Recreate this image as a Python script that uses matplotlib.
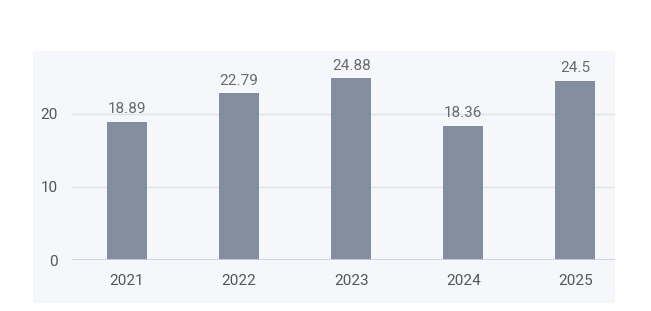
import matplotlib
matplotlib.use('Agg')
import matplotlib.pyplot as plt
from matplotlib.patches import Rectangle

years = ['2021', '2022', '2023', '2024', '2025']
values = [18.89, 22.79, 24.88, 18.36, 24.5]
value_labels = ['18.89', '22.79', '24.88', '18.36', '24.5']
y_ticks = [0, 10, 20]

W, H = 651, 311
fig = plt.figure(figsize=(W / 100, H / 100), dpi=100)
fig.patch.set_facecolor('white')

plt.rcParams['font.family'] = ['Roboto', 'DejaVu Sans']

# light panel behind the chart (must sit under the axes)
fig.patches.append(Rectangle((33 / W, 1 - 303 / H), (615 - 33) / W, (303 - 51) / H,
                             transform=fig.transFigure, facecolor='#f5f7fa',
                             edgecolor='none', zorder=-5))

ax = fig.add_axes([72 / W, 1 - 260 / H, (615 - 72) / W, (260 - 51) / H])
ax.set_facecolor('none')

x = list(range(len(years)))
bars = ax.bar(x, values, width=0.357, color='#838f9f', zorder=3)

for b, lab in zip(bars, value_labels):
    ax.annotate(lab, (b.get_x() + b.get_width() / 2, b.get_height()),
                xytext=(0, 4), textcoords='offset points', ha='center', va='bottom',
                fontsize=11, color='#6a6a6a')

ax.set_xlim(-0.491, 4.353)
ax.set_ylim(0, 28.6)
ax.set_yticks(y_ticks)
ax.set_xticks(x)
ax.set_xticklabels(years)
ax.tick_params(axis='both', length=0, labelsize=11, labelcolor='#555555')
ax.tick_params(axis='x', pad=10)
ax.tick_params(axis='y', pad=10)

for t in [10, 20]:
    ax.axhline(t, color='#e0e3e8', lw=1, zorder=1)
ax.axhline(0, color='#c8cfdb', lw=1.3, zorder=4)

for s in ax.spines.values():
    s.set_visible(False)

fig.savefig('out.png', dpi=100)
